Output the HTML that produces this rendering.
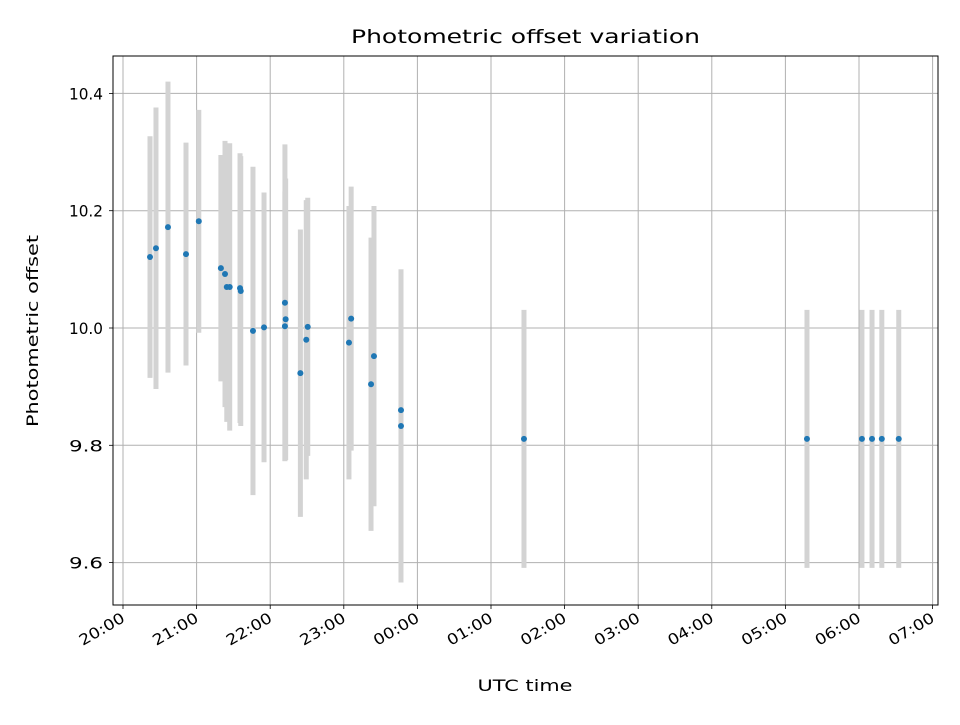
<!DOCTYPE html>
<html><head><meta charset="utf-8"><style>
body{margin:0;background:#fff}
text{font-family:"DejaVu Sans","Liberation Sans",sans-serif;fill:#000}
</style></head><body>
<svg id="c" width="960" height="720" xmlns="http://www.w3.org/2000/svg"></svg>
<script>
// hours after 20:00 UTC
const times=[0.367,0.448,0.611,0.856,1.03,1.33,1.386,1.41,1.45,1.59,1.60,1.766,1.916,2.2,2.21,2.20,2.41,2.49,2.51,3.07,3.10,3.37,3.41,3.777,3.777,5.448,9.293,10.04,10.177,10.31,10.54];
const values=[10.121,10.136,10.172,10.126,10.182,10.102,10.092,10.07,10.07,10.068,10.063,9.995,10.001,10.043,10.015,10.003,9.923,9.98,10.002,9.975,10.016,9.904,9.952,9.833,9.86,9.811,9.811,9.811,9.811,9.811,9.811];
const errors=[0.206,0.24,0.248,0.19,0.19,0.193,0.227,0.23,0.245,0.23,0.23,0.28,0.23,0.27,0.24,0.23,0.245,0.238,0.22,0.233,0.225,0.25,0.256,0.267,0.24,0.22,0.22,0.22,0.22,0.22,0.22];
const yTicks=[9.6,9.8,10.0,10.2,10.4];
const xTickLabels=["20:00","21:00","22:00","23:00","00:00","01:00","02:00","03:00","04:00","05:00","06:00","07:00"];
const L=113,R=938,T=56,B=605;
const X=h=>123+h*73.6;
const Y=v=>328-(v-10)*586.5;
const svg=document.getElementById('c');
const NS='http://www.w3.org/2000/svg';
function mk(tag,attrs,parent){const e=document.createElementNS(NS,tag);for(const k in attrs)e.setAttribute(k,attrs[k]);(parent||svg).appendChild(e);return e;}
const grid=mk('g',{});


xTickLabels.forEach((lab,i)=>{
  const x=X(i);
  mk('line',{x1:x,x2:x,y1:T,y2:B,stroke:'#b0b0b0','stroke-width':1},grid);
  mk('line',{x1:x,x2:x,y1:B,y2:B+4,stroke:'#000','stroke-width':0.8});
  const t=mk('text',{x:x+3,y:B+16,'font-size':15,'text-anchor':'end',textLength:50,lengthAdjust:'spacingAndGlyphs',transform:`rotate(-30 ${x+3} ${B+16})`});
  
  
  t.textContent=lab;
});
yTicks.forEach(v=>{
  const y=Y(v);
  mk('line',{x1:L,x2:R,y1:y,y2:y,stroke:'#b0b0b0','stroke-width':1},grid);
  mk('line',{x1:L-4,x2:L,y1:y,y2:y,stroke:'#000','stroke-width':0.8});
  const t=mk('text',{x:L-27,y:y+6,'font-size':16,'text-anchor':'middle',textLength:34,lengthAdjust:'spacingAndGlyphs'});
  
  
  t.textContent=v.toFixed(1);
});
const bars=mk('g',{});


times.forEach((h,i)=>{
  const b=mk('line',{x1:X(h),x2:X(h),y1:Y(values[i]+errors[i]),y2:Y(values[i]-errors[i]),stroke:'#d3d3d3','stroke-width':5},bars);
  
  
});
const pts=mk('g',{});


times.forEach((h,i)=>{
  const p=mk('circle',{cx:X(h),cy:Y(values[i]),r:3,fill:'#1f77b4'},pts);
  
  
});
const frame=mk('rect',{x:L,y:T,width:R-L,height:B-T,fill:'none',stroke:'#000','stroke-width':1});


const title=mk('text',{x:(L+R)/2,y:43,'font-size':19,'text-anchor':'middle',textLength:349,lengthAdjust:'spacingAndGlyphs'});


title.textContent='Photometric offset variation';
const xt=mk('text',{x:525,y:691,'font-size':16,'text-anchor':'middle',textLength:95,lengthAdjust:'spacingAndGlyphs'});


xt.textContent='UTC time';
const yt=mk('text',{x:38,y:331,'font-size':16,'text-anchor':'middle',textLength:192,lengthAdjust:'spacingAndGlyphs',transform:'rotate(-90 38 331)'});


yt.textContent='Photometric offset';
</script>
</body></html>
